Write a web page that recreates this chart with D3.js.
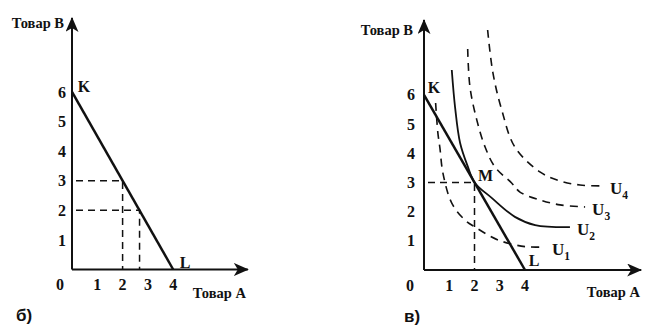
<!DOCTYPE html>
<html><head><meta charset="utf-8">
<script src="https://cdn.jsdelivr.net/npm/d3@7"></script>
<style>
html,body{margin:0;padding:0;background:#fff;}
svg{display:block;}
text{font-family:"Liberation Serif","Times New Roman",serif;font-weight:bold;fill:#111;}
.panel{font-family:"Liberation Sans",Arial,sans-serif;}
</style></head>
<body>
<script>
// ---------- data ----------
const xTicks = [1, 2, 3, 4];
const yTicks = [1, 2, 3, 4, 5, 6];
const xTickLabels = ["1", "2", "3", "4"];
const yTickLabels = ["1", "2", "3", "4", "5", "6"];
const axisLabelX = "Товар A";
const axisLabelY = "Товар B";
const budgetLine = [{a: 0, b: 6}, {a: 4, b: 0}];
const budgetLabels = [{name: "K", a: 0, b: 6}, {name: "L", a: 4, b: 0}];
const leftGuides = [{a: 2, b: 3}, {a: 2.67, b: 2}];
const optimum = {name: "M", a: 2, b: 3};
const u1 = [[0.46,5.72],[0.55,4.69],[0.63,4.18],[0.75,3.32],[1.10,2.29],[1.62,1.71],[2.02,1.47],[2.93,1.03],[4.0,0.80],[4.79,0.79]];
const u2 = [[1.10,6.85],[1.23,5.58],[1.43,4.35],[1.74,3.53],[2.0,3.0],[2.68,2.47],[3.60,1.82],[4.40,1.54],[5.78,1.47]];
const u3 = [[1.73,7.57],[1.82,6.27],[2.09,5.14],[2.42,4.21],[2.81,3.53],[3.47,2.98],[3.80,2.67],[4.59,2.40],[5.39,2.23],[6.38,2.16]];
const u4 = [[2.52,8.22],[2.73,6.75],[3.08,5.48],[3.60,4.21],[4.59,3.36],[5.39,3.05],[6.18,2.91],[7.09,2.88]];
const curveNames = ["1", "2", "3", "4"];
const curveDashed = [true, false, true, true];
const panelNames = ["б)", "в)"];

// ---------- drawing ----------
const W = 655, H = 327;
const svg = d3.select("body").append("svg").attr("width", W).attr("height", H);
const defs = svg.append("defs");
defs.append("marker").attr("id", "arr").attr("viewBox", "0 0 15 13")
  .attr("refX", 14).attr("refY", 6.5).attr("markerWidth", 15).attr("markerHeight", 13)
  .attr("markerUnits", "userSpaceOnUse").attr("orient", "auto")
  .append("path").attr("d", "M0,0 L15,6.5 L0,13 L4,6.5 Z").attr("fill", "#111");

function panel(cfg) {
  const x = d3.scaleLinear().domain([0, 1]).range([cfg.x0, cfg.x0 + cfg.ux]);
  const y = d3.scaleLinear().domain([0, 1]).range([cfg.y0, cfg.y0 - cfg.uy]);
  const g = svg.append("g");
  g.append("line").attr("x1", x(0)).attr("y1", y(0)).attr("x2", x(cfg.xMax)).attr("y2", y(0))
    .attr("stroke", "#111").attr("stroke-width", 2).attr("marker-end", "url(#arr)");
  g.append("line").attr("x1", x(0)).attr("y1", y(0)).attr("x2", x(0)).attr("y2", y(cfg.yMax))
    .attr("stroke", "#111").attr("stroke-width", 2).attr("marker-end", "url(#arr)");
  g.selectAll(".xt").data(xTicks).enter().append("text")
    .attr("x", d => x(d)).attr("y", cfg.y0 + 15).attr("dy", "0.35em")
    .attr("text-anchor", "middle").attr("font-size", 16).text((d, i) => xTickLabels[i]);
  g.selectAll(".yt").data(yTicks).enter().append("text")
    .attr("x", x(0) - cfg.yLabOff).attr("y", d => y(d)).attr("dy", "0.35em")
    .attr("text-anchor", "middle").attr("font-size", 16).text((d, i) => yTickLabels[i]);
  g.append("text").attr("x", x(0) - cfg.zeroOff).attr("y", cfg.y0 + 15).attr("dy", "0.35em")
    .attr("text-anchor", "middle").attr("font-size", 16).text("0");
  g.append("text").attr("x", cfg.xTitle[0]).attr("y", cfg.xTitle[1]).attr("dy", "0.35em")
    .attr("text-anchor", "end").attr("font-size", 14.5).text(axisLabelX);
  g.append("text").attr("x", cfg.yTitle[0]).attr("y", cfg.yTitle[1]).attr("dy", "0.35em")
    .attr("text-anchor", "end").attr("font-size", 14.5).text(axisLabelY);
  g.append("text").attr("class", "panel").attr("x", cfg.pName[0]).attr("y", cfg.pName[1]).attr("dy", "0.35em")
    .attr("font-size", 17).text(cfg.name);
  return {g, x, y};
}

const line = (x, y) => d3.line().x(d => x(d.a)).y(d => y(d.b));

// left panel б)
{
  const {g, x, y} = panel({x0: 72, ux: 25.3, y0: 269.5, uy: 29.6, xMax: 6.95, yMax: 8.5,
    yLabOff: 10, zeroOff: 12, xTitle: [246, 293], yTitle: [64, 23], pName: [16, 315], name: panelNames[0]});
  leftGuides.forEach(p => {
    g.append("path").attr("d", line(x, y)([{a: 0, b: p.b}, p, {a: p.a, b: 0}]))
      .attr("fill", "none").attr("stroke", "#111").attr("stroke-width", 1.5).attr("stroke-dasharray", "7,5")
      .attr("stroke-dashoffset", -4);
  });
  g.append("path").attr("d", line(x, y)(budgetLine)).attr("stroke", "#111").attr("stroke-width", 2.5);
  g.append("text").attr("x", x(0) + 12).attr("y", y(6) - 6).attr("dy", "0.35em").attr("text-anchor", "middle")
    .attr("font-size", 16).text(budgetLabels[0].name);
  g.append("text").attr("x", x(4) + 12).attr("y", y(0) - 7).attr("dy", "0.35em").attr("text-anchor", "middle")
    .attr("font-size", 16).text(budgetLabels[1].name);
}

// right panel в)
{
  const {g, x, y} = panel({x0: 424, ux: 25.25, y0: 270, uy: 29.2, xMax: 8.6, yMax: 8.56,
    yLabOff: 13, zeroOff: 14, xTitle: [640, 292], yTitle: [413, 30], pName: [404, 316], name: panelNames[1]});
  g.append("path").attr("d", line(x, y)([{a: 0, b: optimum.b}, optimum, {a: optimum.a, b: 0}]))
    .attr("fill", "none").attr("stroke", "#111").attr("stroke-width", 1.5).attr("stroke-dasharray", "7,5")
    .attr("stroke-dashoffset", -4);
  const curves = [u1, u2, u3, u4];
  const cl = d3.line().x(d => x(d[0])).y(d => y(d[1])).curve(d3.curveCatmullRom.alpha(0.5));
  curves.forEach((c, i) => {
    g.append("path").attr("d", cl(c)).attr("fill", "none").attr("stroke", "#111")
      .attr("stroke-width", curveDashed[i] ? 1.6 : 1.8)
      .attr("stroke-dasharray", curveDashed[i] ? "8,6" : null);
    const last = c[c.length - 1];
    const t = g.append("text").attr("x", x(last[0]) + 7).attr("y", y(last[1]) + 2).attr("dy", "0.35em")
      .attr("font-size", 17).text("U");
    t.append("tspan").attr("font-size", 11.5).attr("dy", "0.45em").text(curveNames[i]);
  });
  g.append("path").attr("d", line(x, y)(budgetLine)).attr("stroke", "#111").attr("stroke-width", 2.5);
  g.append("text").attr("x", x(0) + 10).attr("y", y(6) - 7).attr("dy", "0.35em").attr("text-anchor", "middle")
    .attr("font-size", 16).text(budgetLabels[0].name);
  g.append("text").attr("x", x(4) + 9).attr("y", y(0) - 10).attr("dy", "0.35em").attr("text-anchor", "middle")
    .attr("font-size", 16).text(budgetLabels[1].name);
  g.append("text").attr("x", x(optimum.a) + 11).attr("y", y(optimum.b) - 7).attr("dy", "0.35em").attr("text-anchor", "middle")
    .attr("font-size", 16).text(optimum.name);
}
</script>
</body></html>
